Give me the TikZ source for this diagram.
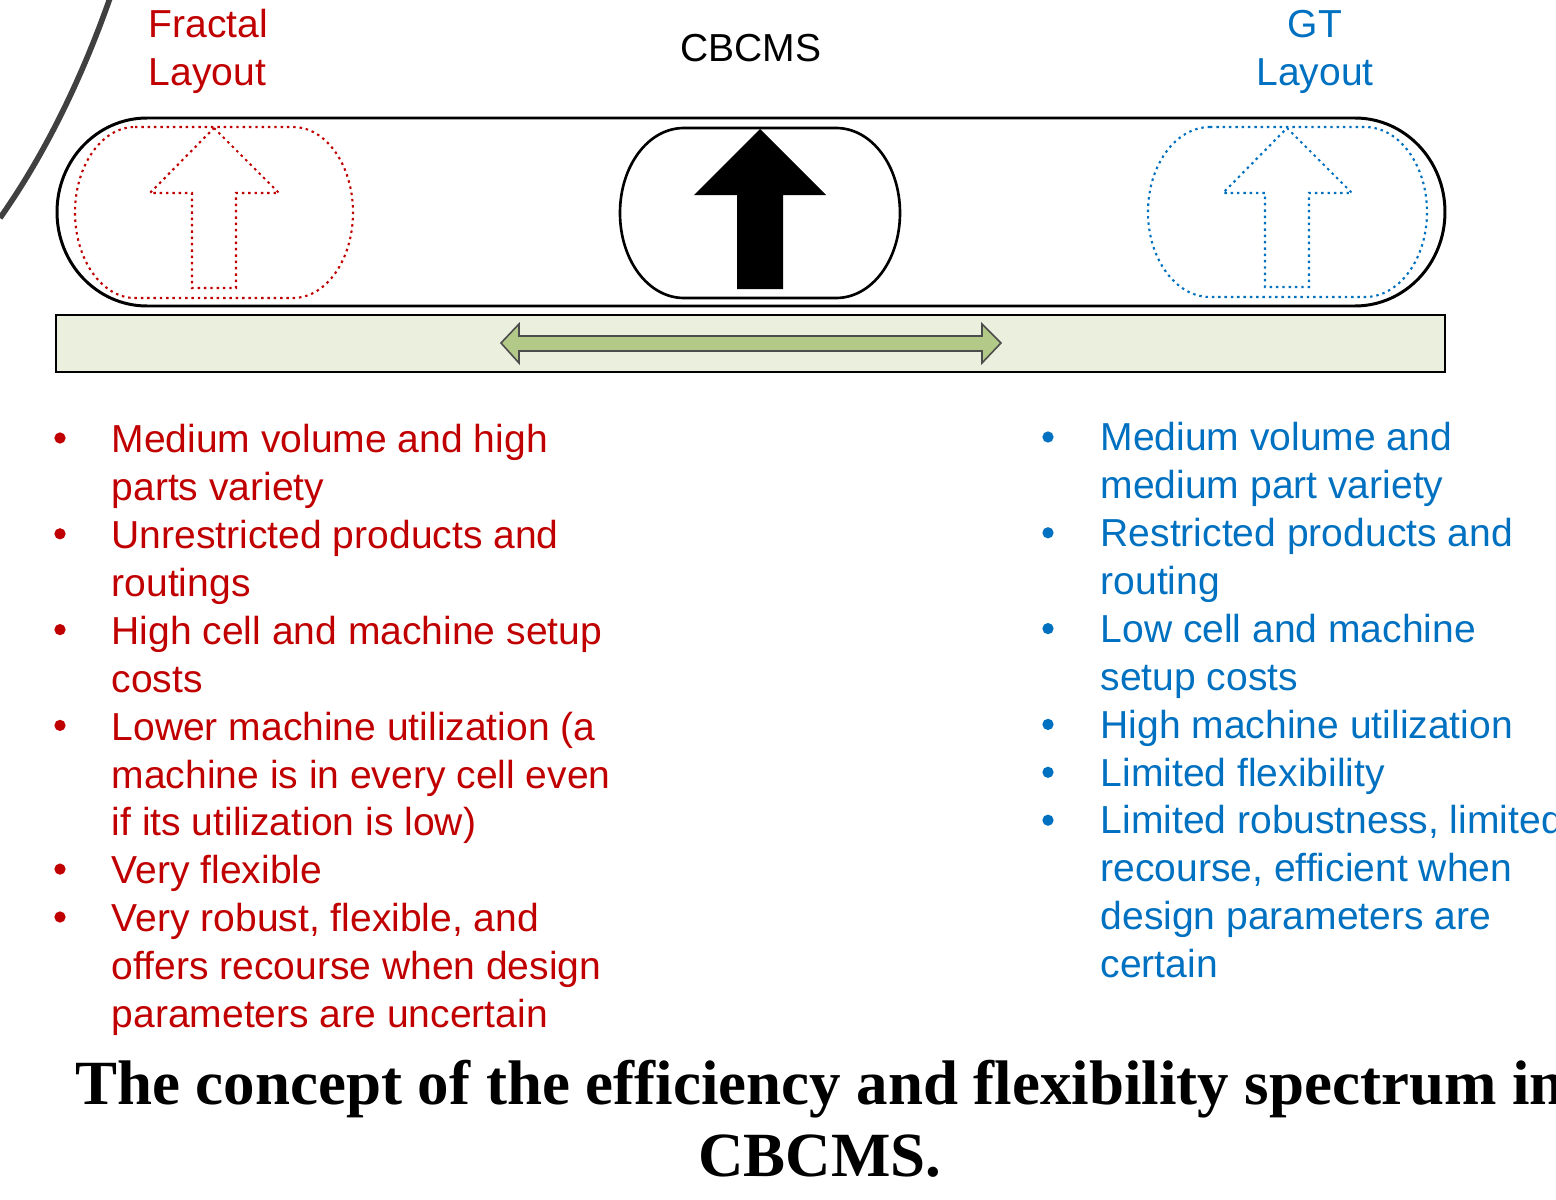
\documentclass[tikz,border=0pt]{standalone}
\usepackage{fontspec}
\setmainfont{Liberation Sans}
\newfontfamily\titlefont{Liberation Serif}
\definecolor{fred}{RGB}{192,0,0}
\definecolor{gtblue}{RGB}{0,112,192}
\definecolor{barfill}{RGB}{235,240,222}
\definecolor{arrfill}{RGB}{179,201,135}
\tikzset{
  txt/.style={inner sep=0pt, font=\fontsize{11.1pt}{13.63pt}\selectfont},
  listtxt/.style={txt, anchor=north west, align=left},
  dotline/.style={line width=0.6pt, dash pattern=on 0.7pt off 1.1pt},
  redbullet/.style={fill=fred, draw=none},
  bluebullet/.style={fill=gtblue, draw=none},
}
\newcommand{\fst}{\rule{0pt}{10pt}}
\begin{document}
\begin{tikzpicture}[x=0.01cm, y=-0.01cm]
\useasboundingbox (0,0) rectangle (1556,1200);
% background arc
\draw[line width=1.6pt, color=black!75] (0,218) .. controls (55,140) and (90,55) .. (110,-2);
% headings
\node[listtxt, text=fred] (fractal) at (148,1.85) {\fst Fractal\\Layout};
\node[txt, anchor=base] (cbcms) at (751,61) {CBCMS};
\node[txt, anchor=north, align=center, text=gtblue] (gt) at (1315,1.85) {\fst GT\\Layout};
% big stadium
\draw[line width=0.85pt] (147,118) -- (1355,118)
  .. controls (1404.7,118) and (1445,160) .. (1445,212)
  .. controls (1445,264) and (1404.7,306) .. (1355,306)
  -- (147,306)
  .. controls (97.3,306) and (57,264) .. (57,212)
  .. controls (57,160) and (97.3,118) .. (147,118) -- cycle;
% red dotted stadium
\draw[dotline, fred] (135,127) -- (293,127)
  .. controls (326.1,127) and (353,165.3) .. (353,212.5)
  .. controls (353,259.7) and (326.1,298) .. (293,298)
  -- (135,298)
  .. controls (101.9,298) and (75,259.7) .. (75,212.5)
  .. controls (75,165.3) and (101.9,127) .. (135,127) -- cycle;
\draw[dotline, fred] (214,128) -- (279,193) -- (236,193) -- (236,288) -- (192,288) -- (192,193) -- (150,193) -- cycle;
% center stadium
\draw[line width=0.75pt] (684,128) -- (836,128)
  .. controls (871.9,128) and (900,166) .. (900,213)
  .. controls (900,260) and (871.9,298) .. (836,298)
  -- (684,298)
  .. controls (648.1,298) and (620,260) .. (620,213)
  .. controls (620,166) and (648.1,128) .. (684,128) -- cycle;
\fill (760,129) -- (826,195) -- (783,195) -- (783,289) -- (737,289) -- (737,195) -- (694,195) -- cycle;
% blue dotted stadium
\draw[dotline, gtblue] (1210,127) -- (1365,127)
  .. controls (1399.2,127) and (1427,165) .. (1427,212)
  .. controls (1427,259) and (1399.2,297) .. (1365,297)
  -- (1210,297)
  .. controls (1175.8,297) and (1148,259) .. (1148,212)
  .. controls (1148,165) and (1175.8,127) .. (1210,127) -- cycle;
\draw[dotline, gtblue] (1287,128) -- (1352,193) -- (1309,193) -- (1309,287) -- (1265,287) -- (1265,193) -- (1223,193) -- cycle;
% green bar
\draw[line width=0.85pt, fill=barfill] (56,315) rectangle (1445,372);
\draw[line width=0.45pt, draw=black!70, fill=arrfill] (501,343) -- (519,324) -- (519,336) -- (982,336) -- (982,324) -- (1001,343) -- (982,363) -- (982,351) -- (519,351) -- (519,363) -- cycle;
% left list
\foreach \yb in {452,547.8,643.6,739.4,883.1,931} \fill[redbullet] (60,\yb-14) circle[radius=1.6pt];
\node[listtxt, text=fred] (l1) at (111,416.85) {\fst Medium volume and high\\parts variety};
\node[listtxt, text=fred] (l2) at (111,512.65) {\fst Unrestricted products and\\routings};
\node[listtxt, text=fred] (l3) at (111,608.45) {\fst High cell and machine setup\\costs};
\node[listtxt, text=fred] (l4) at (111,704.25) {\fst Lower machine utilization (a\\machine is in every cell even\\if its utilization is low)};
\node[listtxt, text=fred] (l5) at (111,847.95) {\fst Very flexible};
\node[listtxt, text=fred] (l6) at (111,895.85) {\fst Very robust, flexible, and\\offers recourse when design\\parameters are uncertain};
% right list
\foreach \yb in {450,545.8,641.6,737.4,785.3,833.2} \fill[bluebullet] (1048,\yb-13) circle[radius=1.6pt];
\node[listtxt, text=gtblue] (r1) at (1100,414.85) {\fst Medium volume and\\medium part variety};
\node[listtxt, text=gtblue] (r2) at (1100,510.65) {\fst Restricted products and\\routing};
\node[listtxt, text=gtblue] (r3) at (1100,606.45) {\fst Low cell and machine\\setup costs};
\node[listtxt, text=gtblue] (r4) at (1100,702.25) {\fst High machine utilization};
\node[listtxt, text=gtblue] (r5) at (1100,750.15) {\fst Limited flexibility};
\node[listtxt, text=gtblue] (r6) at (1100,798.05) {\fst Limited robustness, limited\\recourse, efficient when\\design parameters are\\certain};
% caption
\node[inner sep=0pt, anchor=north, align=center, font=\titlefont\bfseries\fontsize{17.9pt}{20.3pt}\selectfont] (title) at (820,1047.8) {\rule{0pt}{16pt}The concept of the efficiency and flexibility spectrum in\\CBCMS.};
\end{tikzpicture}
\end{document}
